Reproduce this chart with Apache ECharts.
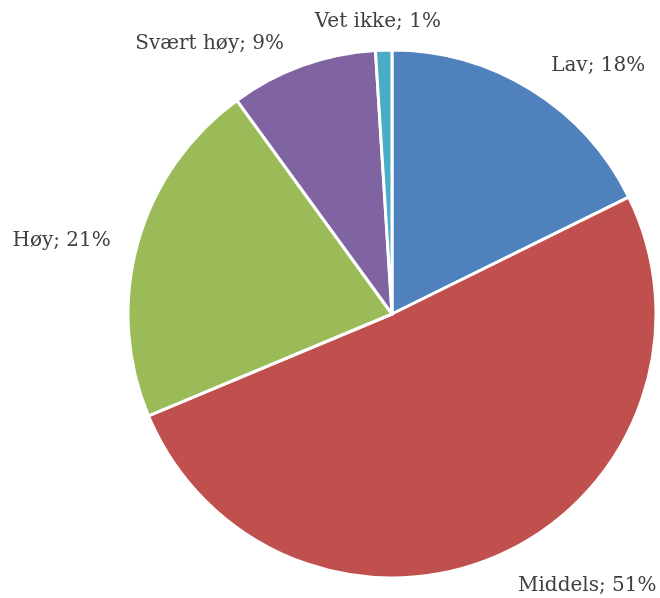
<!DOCTYPE html>
<html>
<head>
<meta charset="utf-8">
<script src="https://cdn.jsdelivr.net/npm/echarts@6/dist/echarts.min.js"></script>
<style>
html,body{margin:0;padding:0;background:#fff;}
#chart{width:660px;height:598px;}
</style>
</head>
<body>
<div id="chart"></div>
<script>
var categories = ['Lav', 'Middels', 'Høy', 'Svært høy', 'Vet ikke'];
var values = [17.7, 51.0, 21.3, 9.0, 1.0];
var colors = ['#4F81BD', '#C0504D', '#9BBB59', '#8064A2', '#4BACC6'];

var myChart = echarts.init(document.getElementById('chart'));
var option = {
    animation: false,
    series: [
        {
            type: 'pie',
            center: [392, 314],
            radius: 264,
            startAngle: 90,
            clockwise: true,
            data: categories.map(function (c, i) {
                return { name: c, value: values[i], itemStyle: { color: colors[i] } };
            }),
            itemStyle: {
                borderColor: '#fff',
                borderWidth: 3
            },
            label: {
                show: true,
                position: 'outside',
                overflow: 'none',
                edgeDistance: 0,
                formatter: function (p) {
                    return p.name + '; ' + Math.round(p.percent) + '%';
                },
                fontFamily: 'DejaVu Serif',
                fontSize: 20,
                color: '#404040'
            },
            labelLine: { show: false, length: 28, length2: 0 },
            // the thin slice at the top gets its label centred over it
            labelLayout: function (p) {
                if (p.dataIndex === 4) {
                    return { dx: p.labelRect.width / 2 };
                }
                if (p.dataIndex === 3) {
                    return { dx: 4 };
                }
                if (p.dataIndex === 2) {
                    return { dy: 6 };
                }
                if (p.dataIndex === 1) {
                    return { dy: 6 };
                }
            },
            emphasis: { disabled: true }
        }
    ]
};
myChart.setOption(option);
window.onresize = function () {
    myChart.resize();
};
</script>
</body>
</html>
